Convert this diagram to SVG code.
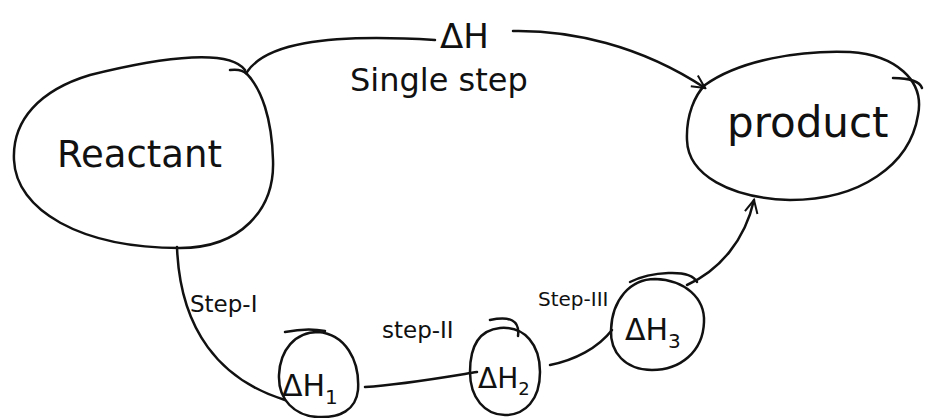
<svg xmlns="http://www.w3.org/2000/svg" width="925" height="418" viewBox="0 0 925 418">
<style>
.s{fill:none;stroke:#111;stroke-width:2.5;stroke-linecap:round;stroke-linejoin:round}
.t{font-family:"DejaVu Sans","Liberation Sans",sans-serif;fill:#111}
</style>
<defs>
<marker id="ah" viewBox="0 0 20 20" refX="18" refY="10" markerWidth="16" markerHeight="16" markerUnits="userSpaceOnUse" orient="auto">
<path d="M2,2 L18,10 L2,18" fill="none" stroke="#111" stroke-width="2.5"/>
</marker>
</defs>
<rect width="925" height="418" fill="#fff"/>
<g id="reactant">
<path class="s" d="M245,70 C230,50 170,55 90,75 C40,90 12,120 14,160 C16,210 80,248 180,248 C240,248 275,210 273,160 C272,120 262,88 245,72"/>
<path class="s" d="M230,70 C238,69 244,71 247,74"/>
<text class="t" x="57" y="167" font-size="37">Reactant</text>
</g>
<g id="product">
<path class="s" d="M705,85 C740,60 800,50 850,52 C895,55 925,80 918,115 C910,165 860,200 790,200 C730,198 688,175 687,140 C686,115 695,95 705,85 Z"/>
<path class="s" d="M893,78 C910,78 920,82 922,88"/>
<text class="t" x="727" y="137" font-size="42">product</text>
</g>
<g id="dh1">
<path class="s" d="M318,332 C345,334 360,360 358,390 C356,410 340,418 318,417 C295,416 278,400 279,375 C280,350 295,332 318,332 Z"/>
<path class="s" d="M285,332 C300,329 315,329 325,331"/>
<text class="t" x="282" y="396" font-size="30">ΔH<tspan font-size="20" dy="8">1</tspan></text>
</g>
<g id="dh2">
<path class="s" d="M500,328 C525,326 540,345 540,372 C540,400 525,415 505,415 C485,415 470,398 470,372 C470,345 480,330 500,328 Z"/>
<path class="s" d="M490,320 C510,316 520,320 518,336"/>
<text class="t" x="478" y="388" font-size="28">ΔH<tspan font-size="18" dy="7">2</tspan></text>
</g>
<g id="dh3">
<path class="s" d="M655,279 C685,280 705,298 704,322 C703,352 680,370 652,370 C625,370 610,352 611,330 C612,300 630,279 655,279 Z"/>
<path class="s" d="M630,282 C650,272 690,268 697,282"/>
<text class="t" x="625" y="340" font-size="30">ΔH<tspan font-size="20" dy="8">3</tspan></text>
</g>
<g id="labels">
<text class="t" x="440" y="48" font-size="34">ΔH</text>
<text class="t" x="350" y="91" font-size="32">Single step</text>
<text class="t" x="190" y="312" font-size="23">Step-I</text>
<text class="t" x="382" y="338" font-size="23">step-II</text>
<text class="t" x="538" y="306" font-size="20">Step-III</text>
</g>
<g id="connectors">
<path class="s" d="M247,72 C265,45 320,33 435,40"/>
<path class="s" d="M513,31 C570,30 640,45 705,88" marker-end="url(#ah)"/>
<path class="s" d="M177,247 C180,330 220,380 285,400"/>
<path class="s" d="M365,387 C400,385 440,378 477,372"/>
<path class="s" d="M550,365 C575,360 598,348 612,330"/>
<path class="s" d="M687,285 C720,270 745,240 754,200" marker-end="url(#ah)"/>
</g>
</svg>
